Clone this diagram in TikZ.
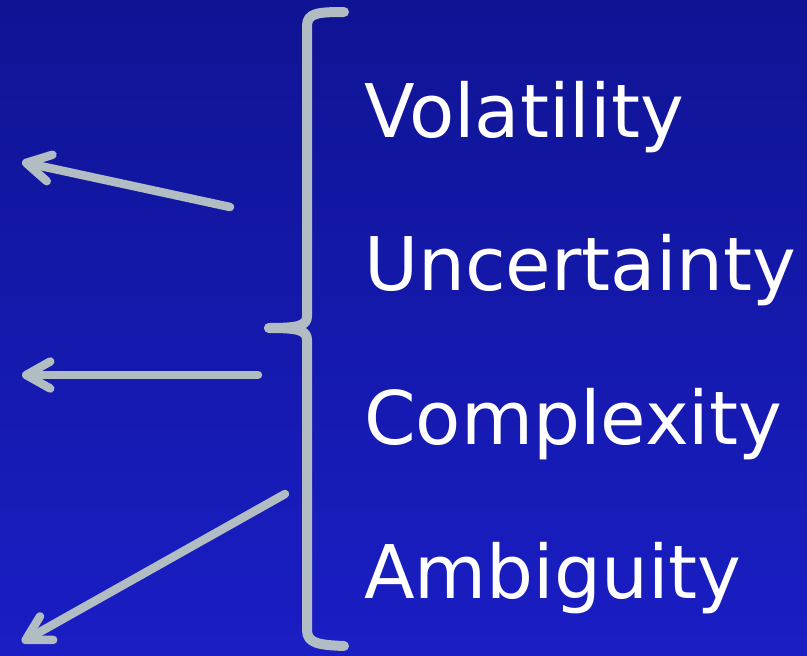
\documentclass[tikz,border=0pt]{standalone}
\usepackage{fontspec}
\setmainfont{DejaVu Sans}
\usetikzlibrary{arrows.meta}
\definecolor{bgtop}{HTML}{0F1494}
\definecolor{bgbottom}{HTML}{1A1EC4}
\definecolor{silver}{HTML}{B1BCC3}

\begin{document}
\begin{tikzpicture}[x=1pt, y=-1pt,
    bracket/.style={draw=silver, line width=10pt, line cap=round, line join=round},
    pointer/.style={draw=silver, line width=8.5pt, line cap=round,
      -{Straight Barb[length=24pt, width=27pt, line cap=round, line join=round]}},
    word/.style={anchor=base west, inner sep=0pt, text=white,
      font=\fontsize{74}{80}\selectfont}]
      \useasboundingbox (0,0) rectangle (807,656);
      \shade[top color=bgtop, bottom color=bgbottom] (0,0) rectangle (807,656);

      % the four words
      \node[word] (vol) at (364,137) {Volatility};
      \node[word] (unc) at (364,290) {Uncertainty};
      \node[word] (cpx) at (364,444) {Complexity};
      \node[word] (amb) at (364,598) {Ambiguity};

      % brace
      \coordinate (top) at (344,12);
      \coordinate (cusp) at (269,328);
      \coordinate (bot) at (344,646);
      \draw[bracket] (top) .. controls (318,12) and (307,13) .. (307,26)
        -- (307,316) .. controls (307,326) and (298,328) .. (cusp);
      \draw[bracket] (cusp) .. controls (298,328) and (307,330) .. (307,340)
        -- (307,630) .. controls (307,643) and (318,645) .. (bot);

      % arrows out of the brace
      \coordinate (s1) at (230,207); \coordinate (e1) at (22,162);
      \coordinate (s2) at (258,375); \coordinate (e2) at (22,375);
      \coordinate (s3) at (285,494); \coordinate (e3) at (22,642);
      \foreach \i in {1,2,3} {
        \draw[pointer] (s\i) -- (e\i);
      }
\end{tikzpicture}
\end{document}
